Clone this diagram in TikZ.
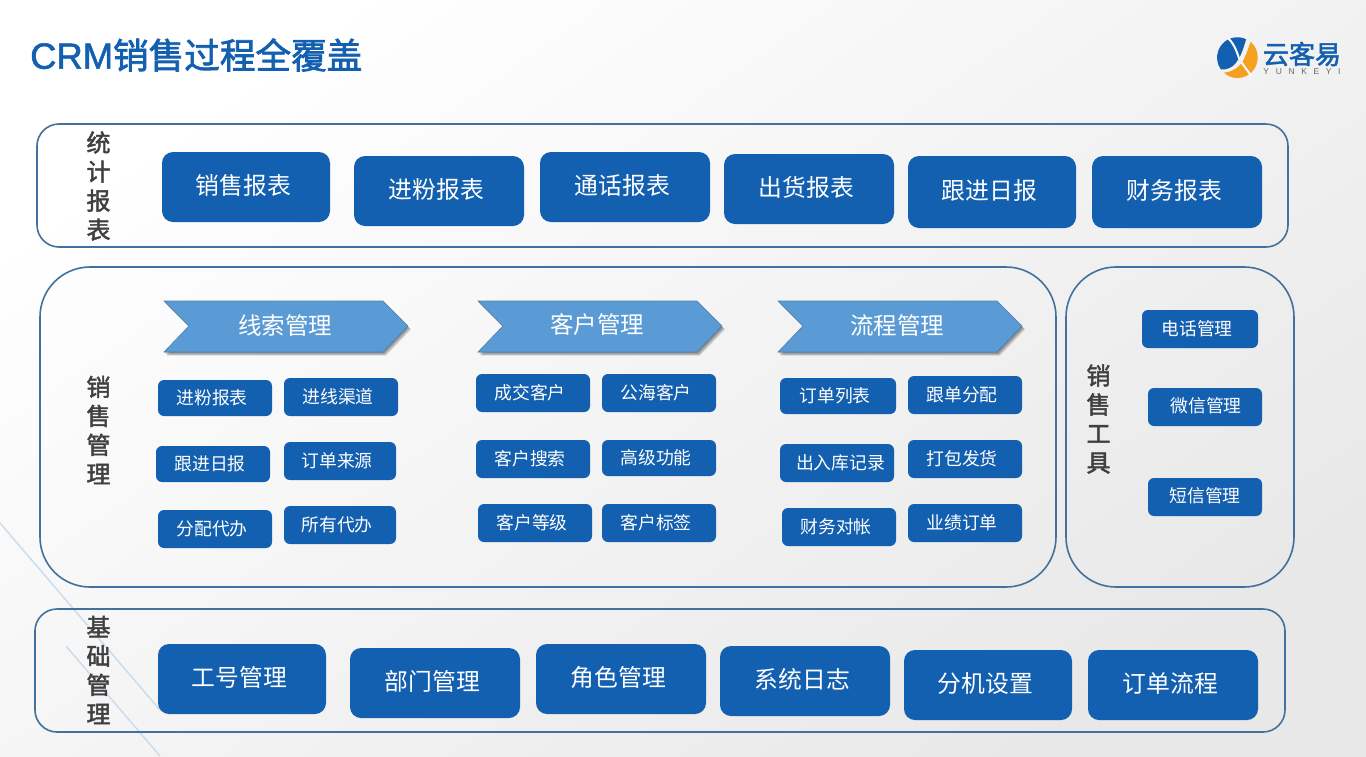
\documentclass[tikz,border=0pt]{standalone}
\usepackage{fontspec}
\setmainfont{Liberation Sans}
\newfontfamily\cjk{Noto Sans CJK SC}
\newfontfamily\cjkm[FakeBold=2]{Noto Sans CJK SC}
\definecolor{brand}{HTML}{135FB0}
\definecolor{panelline}{HTML}{41719C}
\definecolor{arrowblue}{HTML}{5B9BD5}
\definecolor{labelgray}{HTML}{404040}
\definecolor{logoorange}{HTML}{F5A01E}
\definecolor{paleblue}{HTML}{CADDF0}
\tikzset{
  panel/.style={draw=panelline,line width=1.6pt,fill=none},
  bigbox/.style={fill=brand,rounded corners=11pt,text=white,inner sep=0pt,font=\cjk\fontsize{23.8}{24}\selectfont},
  smallbox/.style={fill=brand,rounded corners=6pt,text=white,inner sep=0pt,font=\cjk\fontsize{17.8}{18}\selectfont},
  sidelabel/.style={text=labelgray,inner sep=0pt,align=center,font=\cjkm\fontsize{24}{29}\selectfont},
  bannertext/.style={text=white,inner sep=0pt,font=\cjk\fontsize{23.5}{24}\selectfont},
  decoline/.style={draw=paleblue,line width=1.5pt}
}
% style, name, x0, y0, x1, y1, text x offset, text y offset, text
\newcommand{\bxo}[9]{\path (#3,#4) ++({(#5-#3)/2},{(#6-#4)/2}) node[#1,minimum width={(#5-#3)*1pt},minimum height={(#6-#4)*1pt}] (#2) {\raisebox{#8pt}[\height][\depth]{\hspace*{#7pt}#9}};}
\newcommand{\bigbx}[6]{\bxo{bigbox}{#1}{#2}{#3}{#4}{#5}{-5}{2}{#6}}
\newcommand{\smbx}[6]{\bxo{smallbox}{#1}{#2}{#3}{#4}{#5}{-6}{0}{#6}}
\newcommand{\bann}[5]{%
  \foreach \dx/\dy in {3/3.5,2.2/2.8,1.4/2,0.7/1.2}{
    \fill[black,opacity=0.13] (#2+\dx,301+\dy) -- ++(219,0) -- ++(25,25) -- ++(-25,26) -- ++(-219,0) -- ++(25,-26) -- cycle;}
  \draw[fill=arrowblue,draw=arrowblue!82!black,line width=0.6pt] (#2,301) -- ++(219,0) -- ++(25,25) -- ++(-25,26) -- ++(-219,0) -- ++(25,-26) -- cycle;
  \node[bannertext] (#1) at (#3,#4) {#5};}
\begin{document}
\begin{tikzpicture}[x=1pt,y=-1pt]
\useasboundingbox (0,0) rectangle (1366,756);
\shade[top color=white,bottom color=black!9,shading angle=35] (0,0) rectangle (1366,756);
% decorative lines
\coordinate (d1a) at (0,523); \coordinate (d1b) at (160,710);
\coordinate (d2a) at (66,646); \coordinate (d2b) at (160,756);
\draw[decoline] (d1a) -- (d1b);
\draw[decoline] (d2a) -- (d2b);
% title
\node[anchor=west,inner sep=0pt,text=brand] (title) at (30,55) {\addfontfeature{FakeBold=1.5}\fontsize{36.4}{36}\selectfont CRM{\cjkm\fontsize{35.6}{36}\selectfont 销售过程全覆盖}};
% logo
\begin{scope}[shift={(1180,20)},scale=1/3]
  \fill[brand] (192,55) arc[start angle=-71,end angle=-216,radius=61] .. controls (160,150) and (180,125) .. (198,58) -- cycle;
  \fill[logoorange] (212,65) .. controls (228,80) and (233,95) .. (233,113) .. controls (233,147) and (206,174) .. (172,174) .. controls (155,174) and (143,168) .. (132,158) .. controls (160,155) and (178,140) .. (188,125) .. controls (198,105) and (205,85) .. (212,65) -- cycle;
  \draw[white,line width=2pt] (145,55) .. controls (165,75) and (172,100) .. (178,118);
  \draw[white,line width=2pt] (185,128) -- (214,168);
\end{scope}
\node[inner sep=0pt,text=brand] (logotext) at (1302,54) {\cjkm\fontsize{26}{26}\selectfont 云客易};
\node[inner sep=0pt,text=black!60] (logosub) at (1302,72) {\addfontfeature{LetterSpace=78}\fontsize{8.5}{9}\selectfont YUNKEYI};
% panels
\draw[panel,rounded corners=22pt] (37,124) rectangle (1288,247);
\draw[panel,rounded corners=50pt] (40,267) rectangle (1056,587);
\draw[panel,rounded corners=50pt] (1066,267) rectangle (1294,587);
\draw[panel,rounded corners=22pt] (35,609) rectangle (1285,732);
% side labels
\node[sidelabel] (l1) at (98.5,186) {统\\计\\报\\表};
\node[sidelabel] (l2) at (98.5,430) {销\\售\\管\\理};
\node[sidelabel] (l3) at (1098.5,419) {销\\售\\工\\具};
\node[sidelabel] (l4) at (98.5,670) {基\\础\\管\\理};
% top row
\bigbx{t1}{162}{152}{330}{222}{销售报表}
\bigbx{t2}{354}{156}{524}{226}{进粉报表}
\bigbx{t3}{540}{152}{710}{222}{通话报表}
\bigbx{t4}{724}{154}{894}{224}{出货报表}
\bigbx{t5}{908}{156}{1076}{228}{跟进日报}
\bigbx{t6}{1092}{156}{1262}{228}{财务报表}
% bottom row
\bigbx{b1}{158}{644}{326}{714}{工号管理}
\bigbx{b2}{350}{648}{520}{718}{部门管理}
\bigbx{b3}{536}{644}{706}{714}{角色管理}
\bigbx{b4}{720}{646}{890}{716}{系统日志}
\bigbx{b5}{904}{650}{1072}{720}{分机设置}
\bigbx{b6}{1088}{650}{1258}{720}{订单流程}
% banners
\bann{a1}{164}{285}{326}{线索管理}
\bann{a2}{478}{597}{325}{客户管理}
\bann{a3}{778}{897}{326}{流程管理}
% lead column
\smbx{s1}{158}{380}{272}{416}{进粉报表}
\smbx{s2}{284}{378}{398}{416}{进线渠道}
\smbx{s3}{156}{446}{270}{482}{跟进日报}
\smbx{s4}{284}{442}{396}{480}{订单来源}
\smbx{s5}{158}{510}{272}{548}{分配代办}
\smbx{s6}{284}{506}{396}{544}{所有代办}
% customer column
\smbx{c1}{476}{374}{590}{412}{成交客户}
\smbx{c2}{602}{374}{716}{412}{公海客户}
\smbx{c3}{476}{440}{590}{478}{客户搜索}
\smbx{c4}{602}{440}{716}{476}{高级功能}
\smbx{c5}{478}{504}{592}{542}{客户等级}
\smbx{c6}{602}{504}{716}{542}{客户标签}
% process column
\smbx{p1}{780}{378}{896}{414}{订单列表}
\smbx{p2}{908}{376}{1022}{414}{跟单分配}
\bxo{smallbox}{p3}{780}{444}{894}{482}{7}{0}{出入库记录}
\smbx{p4}{908}{440}{1022}{478}{打包发货}
\smbx{p5}{782}{508}{896}{546}{财务对帐}
\smbx{p6}{908}{504}{1022}{542}{业绩订单}
% tools
\smbx{x1}{1142}{310}{1258}{348}{电话管理}
\bxo{smallbox}{x2}{1148}{388}{1262}{426}{2}{1}{微信管理}
\bxo{smallbox}{x3}{1148}{478}{1262}{516}{0}{1}{短信管理}
\end{tikzpicture}
\end{document}
